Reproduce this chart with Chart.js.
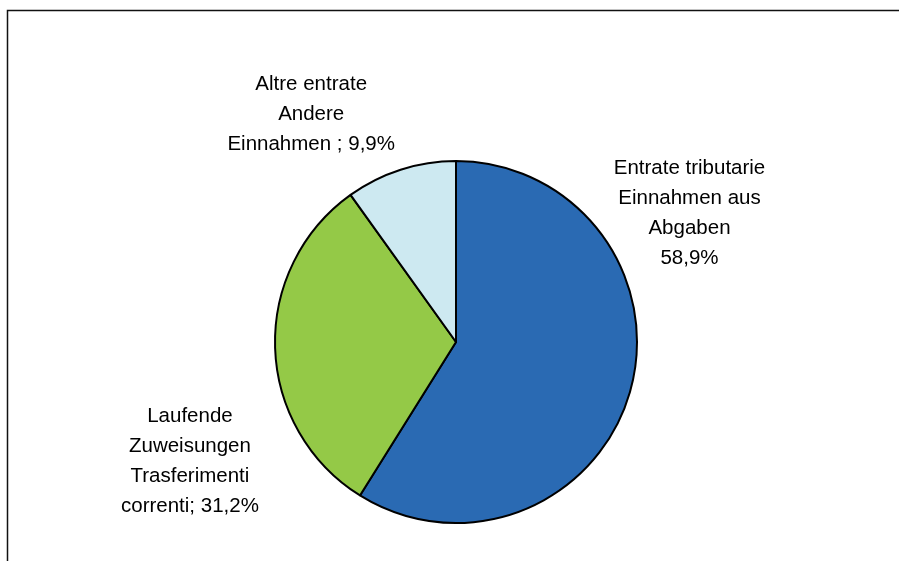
<!DOCTYPE html>
<html>
<head>
<meta charset="utf-8">
<script src="https://cdn.jsdelivr.net/npm/chart.js@4/dist/chart.umd.min.js"></script>
<style>
    html, body { margin: 0; padding: 0; background: #fff; }
    #wrap { width: 899px; height: 561px; position: relative; }
</style>
</head>
<body>
<div id="wrap"><canvas id="pie"></canvas></div>
<script>
// slices, clockwise from 12 o'clock
const labels = [
    ["Entrate tributarie", "Einnahmen aus", "Abgaben", "58,9%"],
    ["Laufende", "Zuweisungen", "Trasferimenti", "correnti; 31,2%"],
    ["Altre entrate", "Andere", "Einnahmen ; 9,9%"]
];
const shares = [58.9, 31.2, 9.9];
const colors = ["#2a6ab3", "#94c947", "#cde9f1"];

// label anchors, in radius units from the pie centre (x of text centre, y of first baseline)
const labelAnchors = [[1.29, -0.93], [-1.47, 0.44], [-0.80, -1.39]];

const frame = {
    id: "frame",
    beforeDraw(chart) {
        const ctx = chart.ctx;
        ctx.save();
        ctx.strokeStyle = "#111";
        ctx.lineWidth = 1.5;
        ctx.strokeRect(7.5, 10.5, 1000, 1000);
        ctx.restore();
    }
};

const sliceLabels = {
    id: "sliceLabels",
    afterDraw(chart) {
        const arc = chart.getDatasetMeta(0).data[0];
        const { x, y, outerRadius } = arc;
        const ctx = chart.ctx;
        ctx.save();
        ctx.font = "20.5px 'Liberation Sans', Arial, sans-serif";
        ctx.fillStyle = "#000";
        ctx.textAlign = "center";
        ctx.textBaseline = "alphabetic";
        labels.forEach((lines, i) => {
            const [fx, fy] = labelAnchors[i];
            lines.forEach((line, j) => ctx.fillText(line, x + fx * outerRadius, y + fy * outerRadius + j * 30));
        });
        ctx.restore();
    }
};

new Chart(document.getElementById("pie"), {
    type: "pie",
    data: {
        labels: labels.map(l => l.join(" ")),
        datasets: [{ data: shares, backgroundColor: colors, borderColor: "#000", borderWidth: 2 }]
    },
    options: {
        responsive: true,
        maintainAspectRatio: false,
        animation: false,
        layout: { padding: { top: 160, bottom: 37, left: 274, right: 261 } },
        plugins: { legend: { display: false }, tooltip: { enabled: false } }
    },
    plugins: [frame, sliceLabels]
});
</script>
</body>
</html>
